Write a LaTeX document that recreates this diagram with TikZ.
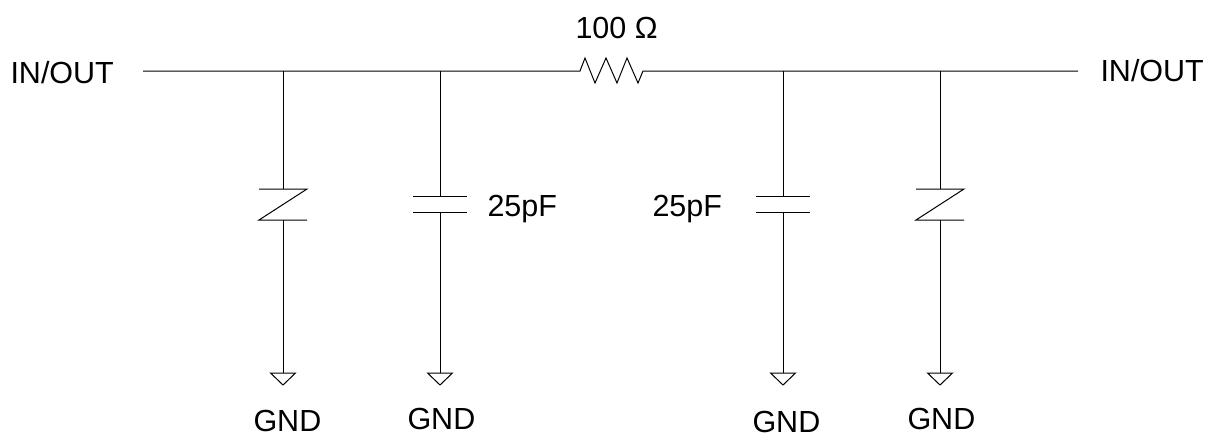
\documentclass[tikz,border=0pt]{standalone}
\usepackage{fontspec}
\setmainfont{Liberation Sans}
\begin{document}
\begin{tikzpicture}[x=1pt,y=-1pt,line width=1pt,
  lbl/.style={inner sep=0pt,anchor=base west,font=\fontsize{30.5}{36}\selectfont},
  gnd/.pic={\draw (-12.5,0)--(12.5,0)--(0,12)--cycle;}]
\useasboundingbox (0,0) rectangle (1209,437);
% terminals and labels
\node[lbl] (inL) at (10,83) {IN/OUT};
\node[lbl] (inR) at (1100,81) {IN/OUT};
\node[lbl] (rlbl) at (575,38) {100 Ω};
\node[lbl] (c1lbl) at (487,216) {25pF};
\node[lbl] (c2lbl) at (652,216.5) {25pF};
\node[lbl] (g1) at (253,431) {GND};
\node[lbl] (g2) at (407,429) {GND};
\node[lbl] (g3) at (752,432.5) {GND};
\node[lbl] (g4) at (907,429) {GND};
% wire coordinates
\coordinate (wL) at (143,71);
\coordinate (wR) at (1078,71);
\coordinate (rA) at (580,71);
\coordinate (rB) at (643,71);
\coordinate (j1) at (283,71);
\coordinate (j2) at (440,71);
\coordinate (j3) at (783,71);
\coordinate (j4) at (940,71);
% main line with resistor
\draw (wL) -- (rA) -- (585,58) -- (595,83) -- (606,58) -- (617,83) -- (627,58) -- (638,83) -- (rB) -- (wR);
% zener-like clamps
\foreach \j/\x in {j1/283,j4/940}{
  \draw (\j) -- (\x,189);
  \draw (\x-24,189) -- (\x+24,189) -- (\x-24,220) -- (\x+24,220);
  \draw (\x,220) -- (\x,373);
  \pic at (\x,373) {gnd};
}
% capacitors
\foreach \j/\x in {j2/440,j3/783}{
  \draw (\j) -- (\x,196.7);
  \draw (\x-27,196.7) -- (\x+27,196.7);
  \draw (\x-27,212.3) -- (\x+27,212.3);
  \draw (\x,212.3) -- (\x,373);
  \pic at (\x,373) {gnd};
}
\end{tikzpicture}
\end{document}
